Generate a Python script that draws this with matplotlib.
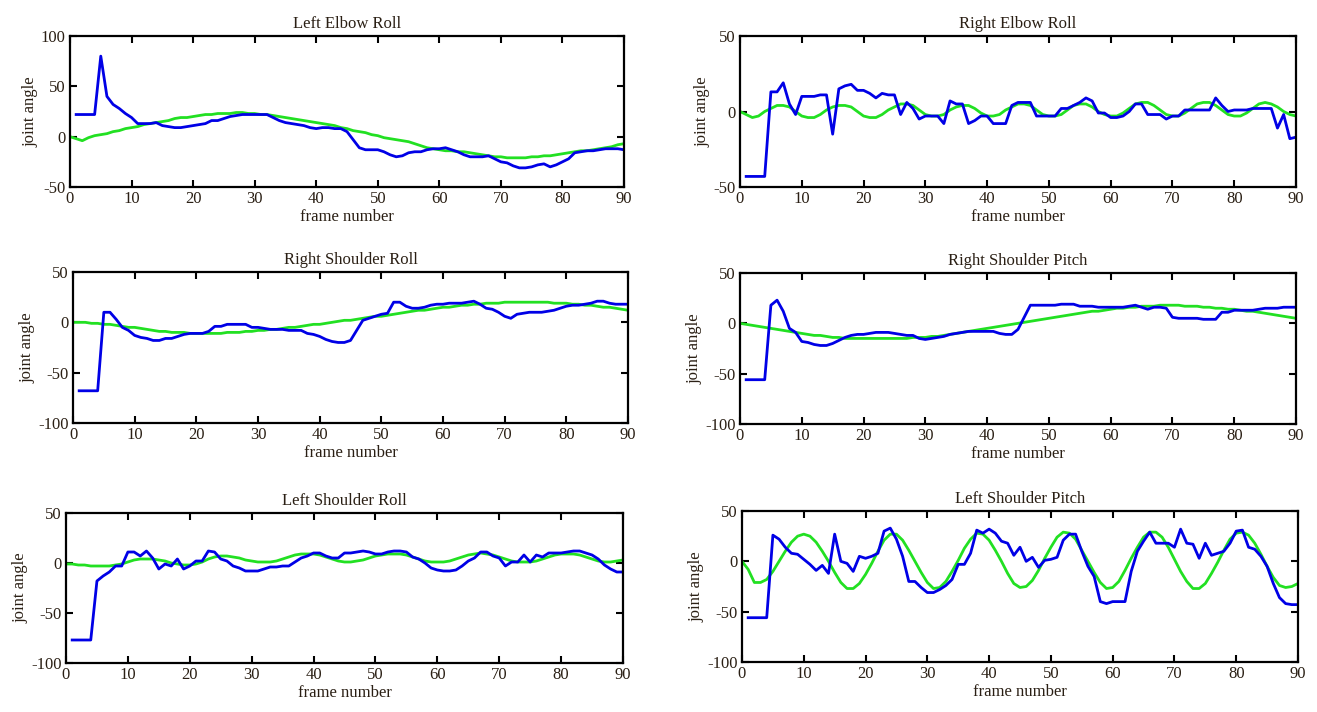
"""
Joint angle tracking: measured (blue) vs reference (green) for six NAO joints.
"""

import numpy as np
import matplotlib.pyplot as plt

plt.rcParams["font.family"] = ["Liberation Serif", "DejaVu Serif"]
plt.rcParams["axes.unicode_minus"] = False

FRAMES_BLUE = np.arange(1, 91)
FRAMES_GREEN = np.arange(0, 91)

TITLES = [
    "Left Elbow Roll", "Right Elbow Roll",
    "Right Shoulder Roll", "Right Shoulder Pitch",
    "Left Shoulder Roll", "Left Shoulder Pitch",
]

# measured (blue), frames 1..90
left_elbow_roll_blue = [
    22, 22, 22, 22, 80, 40, 32, 28, 23, 19,
    13, 13, 13, 14, 11, 10, 9, 9, 10, 11,
    12, 13, 16, 16, 18, 20, 21, 22, 22, 22,
    22, 22, 19, 16, 14, 13, 12, 11, 9, 8,
    9, 9, 8, 8, 5, -3, -11, -13, -13, -13,
    -15, -18, -20, -19, -16, -15, -15, -13, -12, -12,
    -11, -13, -15, -18, -20, -20, -20, -19, -22, -25,
    -26, -29, -31, -31, -30, -28, -27, -30, -28, -25,
    -22, -16, -15, -14, -14, -13, -12, -12, -12, -13,
]
right_elbow_roll_blue = [
    -43, -43, -43, -43, 13, 13, 19, 5, -2, 10,
    10, 10, 11, 11, -15, 15, 17, 18, 14, 14,
    12, 9, 12, 11, 11, -2, 6, 2, -5, -3,
    -3, -3, -8, 7, 5, 5, -8, -6, -3, -3,
    -8, -8, -8, 4, 6, 6, 6, -3, -3, -3,
    -3, 2, 2, 4, 6, 9, 7, -1, -1, -4,
    -4, -3, 0, 5, 5, -2, -2, -2, -5, -3,
    -3, 1, 1, 1, 1, 1, 9, 4, 0, 1,
    1, 1, 2, 2, 2, 2, -11, -2, -18, -17,
]
right_shoulder_roll_blue = [
    -68, -68, -68, -68, 10, 10, 3, -5, -8, -13,
    -15, -16, -18, -18, -16, -16, -14, -12, -11, -11,
    -11, -9, -4, -4, -2, -2, -2, -2, -5, -5,
    -6, -7, -7, -7, -8, -8, -8, -11, -12, -14,
    -17, -19, -20, -20, -18, -8, 2, 4, 6, 8,
    9, 20, 20, 16, 14, 14, 15, 17, 18, 18,
    19, 19, 19, 20, 21, 18, 14, 13, 10, 6,
    4, 8, 9, 10, 10, 10, 11, 12, 14, 16,
    17, 17, 18, 19, 21, 21, 19, 18, 18, 18,
]
right_shoulder_pitch_blue = [
    -56, -56, -56, -56, 18, 23, 12, -5, -9, -18,
    -19, -21, -22, -22, -20, -17, -14, -12, -11, -11,
    -10, -9, -9, -9, -10, -11, -12, -12, -15, -16,
    -15, -14, -13, -11, -10, -9, -8, -8, -8, -8,
    -8, -10, -11, -11, -6, 6, 18, 18, 18, 18,
    18, 19, 19, 19, 17, 17, 17, 16, 16, 16,
    16, 16, 17, 18, 16, 14, 16, 16, 15, 6,
    5, 5, 5, 5, 4, 4, 4, 11, 11, 13,
    13, 13, 13, 14, 15, 15, 15, 16, 16, 16,
]
left_shoulder_roll_blue = [
    -77, -77, -77, -77, -18, -13, -9, -3, -3, 11,
    11, 7, 12, 5, -6, -1, -3, 4, -6, -3,
    2, 2, 12, 11, 4, 2, -3, -5, -8, -8,
    -8, -6, -4, -4, -3, -3, 1, 5, 7, 10,
    10, 7, 5, 5, 10, 10, 11, 12, 11, 9,
    9, 11, 12, 12, 11, 6, 4, 0, -5, -7,
    -8, -8, -7, -3, 2, 5, 11, 11, 7, 5,
    -3, 1, 1, 8, 1, 8, 6, 10, 10, 10,
    11, 12, 12, 10, 8, 4, -2, -6, -9, -9,
]
left_shoulder_pitch_blue = [
    -56, -56, -56, -56, 26, 22, 14, 8, 7, 2,
    -3, -9, -4, -12, 27, 0, -2, -10, 5, 3,
    5, 8, 30, 33, 22, 5, -20, -20, -26, -31,
    -31, -28, -24, -18, -3, -3, 8, 31, 28, 32,
    28, 20, 18, 6, 14, 0, 4, -6, 1, 2,
    4, 21, 27, 27, 10, -5, -15, -40, -42, -40,
    -40, -40, -10, 10, 20, 29, 18, 18, 18, 14,
    32, 18, 17, 3, 18, 6, 8, 10, 18, 30,
    31, 14, 12, 5, -5, -22, -36, -42, -43, -43,
]

# reference (green), frames 0..90
left_elbow_roll_green = [
    0, -2, -4, -1, 1, 2, 3, 5, 6, 8, 9,
    10, 12, 13, 14, 15, 16, 18, 19, 19, 20,
    21, 22, 22, 23, 23, 23, 24, 24, 23, 23,
    22, 22, 21, 20, 19, 18, 17, 16, 15, 14,
    13, 12, 11, 9, 8, 6, 5, 4, 2, 1,
    -1, -2, -3, -4, -5, -7, -9, -11, -12, -13,
    -14, -14, -15, -15, -16, -17, -18, -19, -20, -20,
    -21, -21, -21, -21, -20, -20, -19, -19, -18, -17,
    -16, -15, -14, -14, -13, -12, -11, -10, -8, -7,
]
right_elbow_roll_green = [
    0, -2, -4, -3, 0, 2, 4, 4, 3, 0, -3,
    -4, -4, -2, 1, 3, 4, 4, 3, 0, -3,
    -4, -4, -2, 1, 3, 5, 5, 4, 1, -2,
    -3, -3, -2, 1, 3, 4, 4, 2, -1, -3,
    -3, -2, 1, 3, 5, 5, 4, 1, -2, -3,
    -3, -2, 1, 4, 5, 5, 3, 0, -2, -3,
    -3, -1, 2, 5, 6, 6, 4, 1, -2, -3,
    -3, -1, 2, 5, 6, 6, 4, 1, -2, -3,
    -3, -1, 2, 5, 6, 5, 3, 0, -2, -3,
]
right_shoulder_roll_green = [
    0, 0, 0, -1, -1, -2, -2, -3, -4, -5, -5,
    -6, -7, -8, -9, -9, -10, -10, -10, -11, -11,
    -11, -11, -11, -11, -10, -10, -10, -9, -9, -8,
    -8, -7, -7, -6, -5, -5, -4, -3, -2, -2,
    -1, 0, 1, 2, 2, 3, 4, 5, 6, 6,
    7, 8, 9, 10, 11, 12, 12, 13, 14, 15,
    15, 16, 17, 17, 18, 18, 19, 19, 19, 20,
    20, 20, 20, 20, 20, 20, 20, 19, 19, 19,
    18, 18, 17, 17, 16, 15, 15, 14, 13, 12,
]
right_shoulder_pitch_green = [
    0, -1, -2, -3, -4, -5, -6, -7, -8, -9, -10,
    -11, -12, -12, -13, -14, -14, -15, -15, -15, -15,
    -15, -15, -15, -15, -15, -15, -15, -14, -14, -14,
    -13, -13, -12, -11, -10, -9, -8, -7, -6, -5,
    -4, -3, -2, -1, 0, 1, 2, 3, 4, 5,
    6, 7, 8, 9, 10, 11, 12, 12, 13, 14,
    15, 15, 16, 16, 17, 17, 17, 18, 18, 18,
    18, 17, 17, 17, 16, 16, 15, 15, 14, 14,
    13, 12, 12, 11, 10, 9, 8, 7, 6, 5,
]
left_shoulder_roll_green = [
    -1, -1, -2, -2, -3, -3, -3, -3, -2, -1, 1,
    3, 4, 4, 4, 3, 2, 0, -1, -2, -2,
    -1, 1, 4, 6, 7, 7, 6, 5, 3, 2,
    1, 1, 1, 2, 4, 6, 8, 9, 9, 9,
    8, 6, 4, 2, 1, 1, 2, 3, 5, 7,
    8, 9, 9, 9, 8, 6, 4, 2, 1, 1,
    1, 2, 4, 6, 8, 9, 10, 9, 8, 6,
    4, 2, 1, 1, 1, 2, 4, 6, 8, 9,
    9, 9, 8, 6, 4, 2, 1, 1, 2, 3,
]
left_shoulder_pitch_green = [
    0, -8, -21, -21, -18, -10, 0, 10, 19, 25, 27,
    25, 19, 10, 0, -11, -21, -27, -27, -22, -13,
    -2, 10, 21, 27, 27, 21, 11, 0, -11, -21,
    -27, -26, -20, -10, 1, 13, 22, 28, 27, 21,
    11, 0, -12, -22, -26, -25, -19, -9, 3, 14,
    24, 29, 28, 22, 11, 0, -11, -21, -27, -26,
    -20, -9, 3, 14, 24, 29, 29, 24, 14, 2,
    -10, -20, -27, -27, -22, -12, -1, 11, 22, 28,
    29, 26, 18, 7, -5, -16, -24, -26, -25, -22,
]

BLUE_SERIES = [
    left_elbow_roll_blue, right_elbow_roll_blue,
    right_shoulder_roll_blue, right_shoulder_pitch_blue,
    left_shoulder_roll_blue, left_shoulder_pitch_blue,
]
GREEN_SERIES = [
    left_elbow_roll_green, right_elbow_roll_green,
    right_shoulder_roll_green, right_shoulder_pitch_green,
    left_shoulder_roll_green, left_shoulder_pitch_green,
]
Y_LIMITS = [(-50, 100), (-50, 50), (-100, 50), (-100, 50), (-100, 50), (-100, 50)]
X_TICKS = list(range(0, 91, 10))

# axes boxes in figure pixels: left, right, top, bottom
BOXES_PX = [
    (70, 624, 36, 187), (740, 1296, 36, 187),
    (73, 628, 272, 423), (740, 1296, 273, 424),
    (66, 623, 513, 663), (742, 1298, 511, 662),
]

W, H = 1317, 712
TEXT_COLOR = "#2a1f14"


def main() -> None:
    fig = plt.figure(figsize=(W / 100, H / 100), dpi=100)
    for i, (l, r, t, b) in enumerate(BOXES_PX):
        ax = fig.add_axes([l / W, 1 - b / H, (r - l) / W, (b - t) / H])
        ax.plot(FRAMES_GREEN, GREEN_SERIES[i], color="#22e022", lw=2.0)
        ax.plot(FRAMES_BLUE, BLUE_SERIES[i], color="#0000e6", lw=2.0)
        lo, hi = Y_LIMITS[i]
        ax.set_xlim(0, 90)
        ax.set_ylim(lo, hi)
        ax.set_xticks(X_TICKS)
        ax.set_yticks(list(range(lo, hi + 1, 50)))
        ax.tick_params(direction="in", top=True, right=True, length=5,
                       width=1.5, labelsize=12, colors="black",
                       labelcolor=TEXT_COLOR, pad=3)
        for sp in ax.spines.values():
            sp.set_linewidth(1.6)
        ax.set_title(TITLES[i], fontsize=12, color=TEXT_COLOR, pad=6)
        ax.set_xlabel("frame number", fontsize=12, color=TEXT_COLOR, labelpad=1)
        ax.set_ylabel("joint angle", fontsize=12, color=TEXT_COLOR, labelpad=2)

    fig.savefig("out.png", dpi=100)
    plt.close(fig)


if __name__ == "__main__":
    main()
